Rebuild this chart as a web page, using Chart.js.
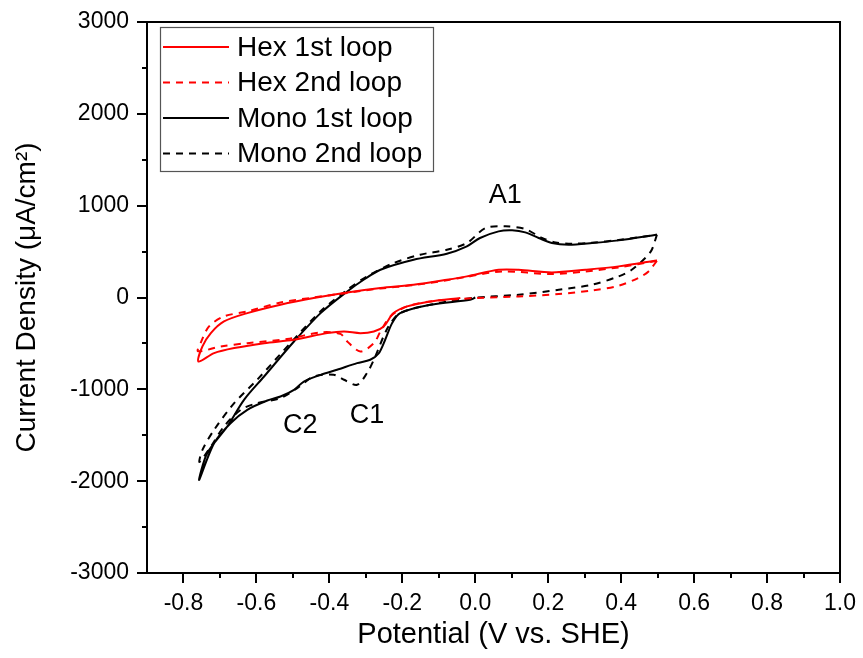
<!DOCTYPE html>
<html>
<head>
<meta charset="utf-8">
<script src="https://cdn.jsdelivr.net/npm/chart.js@4.4.1/dist/chart.umd.min.js"></script>
<style>
  html, body { margin: 0; padding: 0; background: #fff; }
  .wrap { width: 863px; height: 658px; position: relative; }
</style>
</head>
<body>
<div class="wrap"><canvas id="cvChart"></canvas></div>
<script>
// tick labels
const potentialTicks = [-0.8, -0.6, -0.4, -0.2, 0.0, 0.2, 0.4, 0.6, 0.8, 1.0];
const densityTicks = [-3000, -2000, -1000, 0, 1000, 2000, 3000];

// Hex 1st loop: from OCP down to -0.76 V, then up to 0.5 V
const hex1V = [-0.041, -0.123, -0.187, -0.224, -0.251, -0.278, -0.315, -0.360, -0.406, -0.497, -0.579, -0.661, -0.716, -0.759,
  -0.748, -0.725, -0.689, -0.625, -0.534, -0.443, -0.351, -0.260, -0.169, -0.078, -0.023, 0.064, 0.119, 0.210, 0.302, 0.393, 0.498];
const hex1J = [-6, -43, -97, -170, -315, -370, -388, -370, -388, -460, -497, -551, -606, -697,
  -533, -388, -261, -170, -79, -6, 55, 103, 139, 193, 230, 302, 302, 273, 302, 339, 404];

// Hex 2nd loop: from 0.5 V down to -0.76 V and back
const hex2V = [0.498, 0.475, 0.447, 0.393, 0.320, 0.229, 0.119, 0.001, -0.123, -0.187, -0.233, -0.260, -0.278, -0.315, -0.351, -0.370, -0.424, -0.516, -0.625, -0.698, -0.760,
  -0.753, -0.730, -0.689, -0.625, -0.534, -0.443, -0.351, -0.260, -0.169, -0.078, -0.023, 0.073, 0.210, 0.302, 0.393, 0.498];
const hex2J = [400, 284, 212, 128, 77, 37, 12, -6, -43, -97, -206, -370, -497, -588, -479, -396, -380, -453, -497, -533, -585,
  -497, -315, -206, -152, -54, 0, 50, 98, 134, 188, 225, 284, 255, 284, 328, 400];

// Mono 1st loop
const mono1V = [0.0, -0.014, -0.123, -0.206, -0.228, -0.247, -0.265, -0.288, -0.324, -0.379, -0.424, -0.470, -0.497, -0.534, -0.570, -0.625, -0.671, -0.716, -0.757,
  -0.735, -0.680, -0.634, -0.579, -0.497, -0.424, -0.351, -0.306, -0.260, -0.169, -0.078, -0.023, 0.013, 0.064, 0.101, 0.137, 0.174, 0.210, 0.256, 0.320, 0.393, 0.498];
const mono1J = [0, -25, -79, -170, -279, -460, -610, -678, -715, -787, -842, -915, -1005, -1078, -1122, -1223, -1369, -1587, -1986,
  -1696, -1405, -1114, -860, -479, -170, 66, 193, 302, 411, 477, 557, 648, 720, 731, 709, 648, 593, 575, 593, 622, 684];

// Mono 2nd loop
const mono2V = [0.498, 0.484, 0.466, 0.429, 0.393, 0.320, 0.229, 0.119, -0.009, -0.123, -0.206, -0.240, -0.278, -0.297, -0.324, -0.360, -0.388, -0.443, -0.488, -0.534, -0.598, -0.643, -0.689, -0.725, -0.756,
  -0.748, -0.716, -0.661, -0.598, -0.507, -0.424, -0.351, -0.297, -0.224, -0.151, -0.078, -0.023, 0.028, 0.083, 0.137, 0.183, 0.220, 0.265, 0.320, 0.393, 0.498];
const mono2J = [684, 520, 430, 302, 230, 139, 84, 30, -6, -79, -170, -330, -678, -824, -951, -896, -842, -860, -987, -1096, -1151, -1223, -1405, -1623, -1790,
  -1659, -1441, -1151, -896, -497, -150, 84, 230, 375, 466, 520, 593, 757, 775, 746, 648, 600, 586, 597, 626, 684];

const peakLabels = ['A1', 'C1', 'C2'];
const peakV = [0.082, -0.297, -0.48];
const peakJ = [1109, -1289, -1398];

const toPoints = (xs, ys) => xs.map((x, i) => ({ x: x, y: ys[i] }));
const FONT = '"Liberation Sans", Arial, sans-serif';

const minorTicks = {
  id: 'minorTicks',
  afterDraw(chart) {
    const ctx = chart.ctx;
    const a = chart.chartArea;
    const xs = chart.scales.x, ys = chart.scales.y;
    ctx.save();
    ctx.strokeStyle = '#000';
    ctx.lineWidth = 2;
    // frame top and right
    ctx.beginPath();
    ctx.moveTo(a.left, a.top); ctx.lineTo(a.right, a.top); ctx.lineTo(a.right, a.bottom);
    ctx.stroke();
    ctx.beginPath();
    for (let v = -0.7; v < 1.0; v += 0.2) {
      const px = Math.round(xs.getPixelForValue(v));
      ctx.moveTo(px, a.bottom); ctx.lineTo(px, a.bottom + 5);
    }
    for (let v = -2500; v < 3000; v += 1000) {
      const py = Math.round(ys.getPixelForValue(v));
      ctx.moveTo(a.left, py); ctx.lineTo(a.left - 5, py);
    }
    ctx.stroke();

    // peak labels
    ctx.fillStyle = '#000';
    ctx.font = '27px ' + FONT;
    ctx.textAlign = 'center';
    ctx.textBaseline = 'middle';
    peakLabels.forEach((t, i) => {
      ctx.fillText(t, xs.getPixelForValue(peakV[i]), ys.getPixelForValue(peakJ[i]));
    });

    // legend box
    const lx = 160, ly = 27, lw = 273, lh = 144;
    ctx.lineWidth = 1.2;
    ctx.strokeStyle = '#555';
    ctx.strokeRect(lx + 0.5, ly + 0.5, lw, lh);
    ctx.font = '28px ' + FONT;
    ctx.textAlign = 'left';
    chart.data.datasets.forEach((ds, i) => {
      const y = 47 + i * 35.5;
      ctx.strokeStyle = ds.borderColor;
      ctx.lineWidth = 2;
      ctx.setLineDash(ds.borderDash || []);
      ctx.beginPath();
      ctx.moveTo(163, y); ctx.lineTo(229, y);
      ctx.stroke();
      ctx.setLineDash([]);
      ctx.fillStyle = '#000';
      ctx.fillText(ds.label, 237, y + 1);
    });
    ctx.restore();
  }
};

const mkSet = (label, xs, ys, color, dashed) => ({
  label: label,
  data: toPoints(xs, ys),
  borderColor: color,
  borderWidth: 2,
  borderDash: dashed ? [7, 6] : [],
  showLine: true,
  pointRadius: 0,
  tension: 0.3,
  fill: false
});

new Chart(document.getElementById('cvChart'), {
  type: 'scatter',
  data: {
    datasets: [
      mkSet('Hex 1st loop', hex1V, hex1J, '#ff0000', false),
      mkSet('Hex 2nd loop', hex2V, hex2J, '#ff0000', true),
      mkSet('Mono 1st loop', mono1V, mono1J, '#000000', false),
      mkSet('Mono 2nd loop', mono2V, mono2J, '#000000', true)
    ]
  },
  options: {
    responsive: true,
    maintainAspectRatio: false,
    animation: false,
    layout: { padding: { top: 22, right: 21, left: 0, bottom: 0 } },
    scales: {
      x: {
        type: 'linear',
        min: -0.9,
        max: 1.0,
        afterBuildTicks: s => { s.ticks = potentialTicks.map(v => ({ value: v })); },
        afterFit: s => { s.height = 85; },
        border: { display: true, color: '#000', width: 2 },
        grid: { drawOnChartArea: false, drawTicks: true, tickLength: 10, color: '#000', lineWidth: 2 },
        ticks: {
          color: '#000', font: { family: FONT, size: 23 }, padding: 7,
          maxRotation: 0, autoSkip: false,
          callback: v => Number(v).toFixed(1)
        },
        title: { display: true, text: 'Potential (V vs. SHE)', color: '#000', font: { family: FONT, size: 29 }, padding: { top: 4, bottom: 6 } }
      },
      y: {
        type: 'linear',
        min: -3000,
        max: 3000,
        afterBuildTicks: s => { s.ticks = densityTicks.map(v => ({ value: v })); },
        afterFit: s => { s.width = 147; },
        border: { display: true, color: '#000', width: 2 },
        grid: { drawOnChartArea: false, drawTicks: true, tickLength: 10, color: '#000', lineWidth: 2 },
        ticks: {
          color: '#000', font: { family: FONT, size: 23 }, padding: 8,
          callback: v => String(v)
        },
        title: { display: true, text: 'Current Density (μA/cm²)', color: '#000', font: { family: FONT, size: 28 }, padding: { top: 10, bottom: 4 } }
      }
    },
    plugins: {
      legend: { display: false },
      tooltip: { enabled: false }
    }
  },
  plugins: [minorTicks]
});
</script>
</body>
</html>
